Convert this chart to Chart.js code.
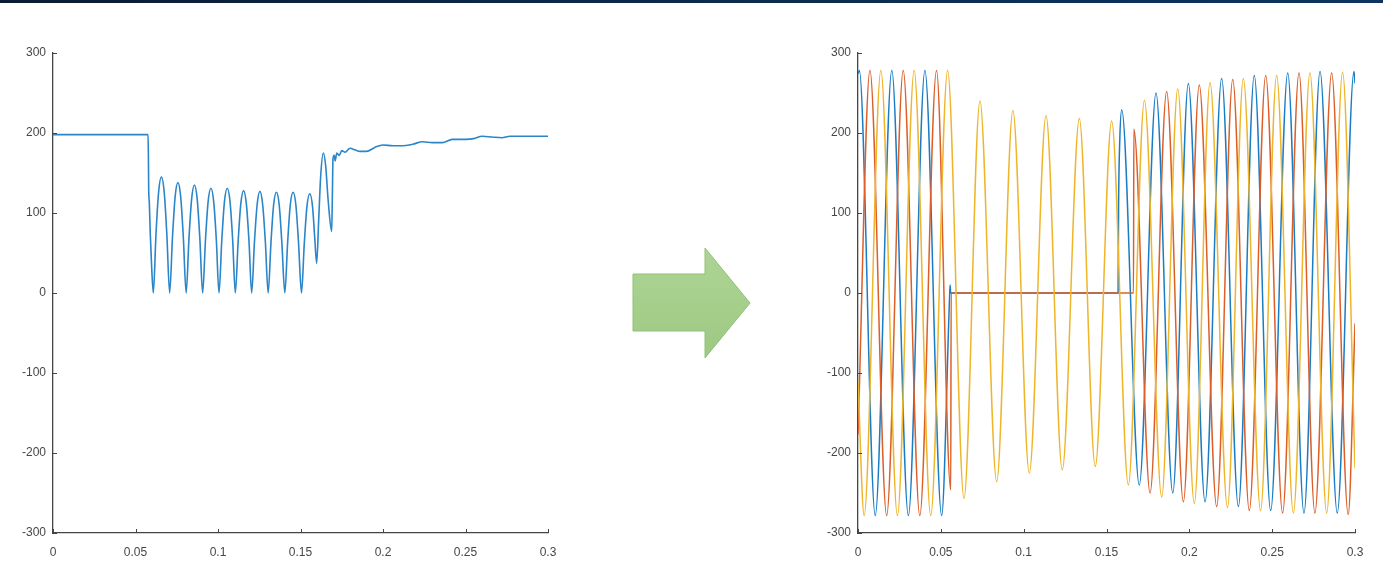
<!DOCTYPE html>
<html>
<head>
<meta charset="utf-8">
<script src="https://cdn.jsdelivr.net/npm/chart.js@4.4.1/dist/chart.umd.min.js"></script>
<style>
  html, body { margin: 0; padding: 0; background: #ffffff; }
  body { width: 1383px; height: 563px; position: relative; overflow: hidden; }
  #topbar { position: absolute; left: 0; top: 0; width: 1383px; height: 3px;
            background: linear-gradient(90deg, #0b1b33 0%, #0c2a4c 50%, #0c3561 100%); }
  #cLeft { position: absolute; left: 0; top: 0; }
  #cRight { position: absolute; left: 780px; top: 0; }
  #arrow { position: absolute; left: 0; top: 0; }
</style>
</head>
<body>
<div id="topbar"></div>
<canvas id="cLeft" width="620" height="563"></canvas>
<canvas id="cRight" width="603" height="563"></canvas>
<svg id="arrow" width="1383" height="563">
  <defs>
    <linearGradient id="g" x1="0" y1="0" x2="0" y2="1">
      <stop offset="0" stop-color="#aed495"/>
      <stop offset="1" stop-color="#9dc982"/>
    </linearGradient>
  </defs>
  <polygon points="633,274 705,274 705,248 750,303 705,358 705,331 633,331"
           fill="url(#g)" stroke="#90c274" stroke-width="1"/>
</svg>
<script>
// ---------- data (time in s, value) ----------
const xTicks = [0, 0.05, 0.1, 0.15, 0.2, 0.25, 0.3];
const yTicks = [-300, -200, -100, 0, 100, 200, 300];

// left chart: DC-like signal
const leftSeries = [
  [0, 198], [0.0576, 198], [0.0578, 175], [0.0580, 130], [0.0584, 112], [0.0589, 77], [0.0597, 37], [0.0608, 0],
  [0.0624, 73], [0.0640, 126], [0.0657, 145], [0.0674, 126], [0.0690, 73],
  [0.0707, 0], [0.0724, 69], [0.0740, 120], [0.0757, 138], [0.0774, 120], [0.0790, 69],
  [0.0807, 0], [0.0824, 68], [0.0840, 117], [0.0857, 135], [0.0874, 117], [0.0890, 68],
  [0.0907, 0], [0.0924, 66], [0.0940, 114], [0.0957, 131], [0.0974, 114], [0.0990, 66],
  [0.1006, 0], [0.1023, 66], [0.1039, 114], [0.1056, 131], [0.1073, 114], [0.1089, 66],
  [0.1105, 0], [0.1122, 64], [0.1138, 111], [0.1155, 128], [0.1172, 111], [0.1188, 64],
  [0.1204, 0], [0.1221, 64], [0.1237, 110], [0.1254, 127], [0.1271, 110], [0.1287, 64],
  [0.1304, 0], [0.1321, 63], [0.1337, 110], [0.1354, 126], [0.1371, 110], [0.1387, 63],
  [0.1405, 0], [0.1422, 63], [0.1438, 110], [0.1455, 126], [0.1472, 110], [0.1488, 63],
  [0.1506, 0], [0.1523, 62], [0.1539, 108], [0.1556, 124], [0.1573, 108], [0.1586, 70],
  [0.1598, 37], [0.1610, 90], [0.1622, 145], [0.1638, 175], [0.1652, 160], [0.1668, 115],
  [0.1689, 77], [0.1693, 120], [0.1697, 168], [0.1705, 172], [0.1710, 165], [0.1720, 175],
  [0.1735, 172], [0.1750, 178], [0.1770, 176], [0.1800, 181], [0.1830, 179], [0.1860, 177],
  [0.1900, 177], [0.1950, 182], [0.2000, 185], [0.2060, 184], [0.2120, 184], [0.2180, 186],
  [0.2240, 189], [0.2300, 188], [0.2360, 188], [0.2420, 192], [0.2500, 192], [0.2550, 193],
  [0.2600, 196], [0.2660, 195], [0.2720, 194], [0.2770, 196], [0.3000, 196]
];

// right chart: three phases (peaks / troughs / breakpoints)
const blueSeries = [
  [0, 274], [0.0008, 278], [0.0104, -278], [0.0204, 278], [0.0304, -278], [0.0404, 278],
  [0.0505, -278], [0.0553, -4], [0.0556, 10], [0.0559, 0], [0.1570, 0], [0.1573, 110],
  [0.1580, 190], [0.1592, 229], [0.1698, -240], [0.1799, 250], [0.1900, -250], [0.1994, 262],
  [0.2095, -261], [0.2195, 268], [0.2296, -267], [0.2392, 272], [0.2491, -272], [0.2594, 275],
  [0.2692, -275], [0.2789, 277], [0.2893, -275], [0.2994, 277], [0.3000, 262]
];
const redSeries = [
  [0, -177], [0.0072, 278], [0.0173, -278], [0.0273, 278], [0.0373, -278], [0.0474, 278],
  [0.0560, -246], [0.0562, 0], [0.1663, 0], [0.1665, 205], [0.1763, -250], [0.1863, 252],
  [0.1964, -261], [0.2060, 260], [0.2165, -267], [0.2262, 267], [0.2362, -272], [0.2461, 272],
  [0.2563, -275], [0.2662, 275], [0.2758, -275], [0.2859, 275], [0.2959, -277], [0.3000, -38]
];
const yellowSeries = [
  [0, -110], [0.0037, -278], [0.0138, 278], [0.0238, -278], [0.0339, 278], [0.0439, -278],
  [0.0541, 278], [0.0640, -257], [0.0736, 240], [0.0837, -236], [0.0935, 228], [0.1034, -225],
  [0.1135, 222], [0.1233, -221], [0.1336, 218], [0.1432, -217], [0.1531, 215], [0.1632, -240],
  [0.1729, 241], [0.1833, -255], [0.1930, 255], [0.2030, -263], [0.2125, 263], [0.2230, -268],
  [0.2326, 268], [0.2430, -272], [0.2527, 272], [0.2628, -275], [0.2728, 275], [0.2829, -275],
  [0.2925, 276], [0.3000, -219]
];

// ---------- helpers ----------
const toPts = s => s.map(p => ({ x: p[0], y: p[1] }));
const AXIS = '#454545';
const FONT = { family: '"Liberation Sans", Arial, sans-serif', size: 12 };

const innerTicks = {
  id: 'innerTicks',
  afterDraw(chart) {
    const { ctx, chartArea, scales } = chart;
    ctx.save();
    ctx.strokeStyle = AXIS;
    ctx.lineWidth = 1;
    ctx.beginPath();
    for (const v of xTicks) {
      const px = Math.round(scales.x.getPixelForValue(v)) + 0.5;
      ctx.moveTo(px, chartArea.bottom);
      ctx.lineTo(px, chartArea.bottom - 4);
    }
    for (const v of yTicks) {
      const py = Math.round(scales.y.getPixelForValue(v)) + 0.5;
      ctx.moveTo(chartArea.left, py);
      ctx.lineTo(chartArea.left + 4, py);
    }
    ctx.stroke();
    ctx.restore();
  }
};

function makeOptions(padLeft, padRight) {
  return {
    responsive: false,
    animation: false,
    devicePixelRatio: 1,
    layout: { padding: { left: padLeft, right: padRight, top: 53, bottom: 0 } },
    plugins: { legend: { display: false }, tooltip: { enabled: false } },
    elements: { point: { radius: 0 } },
    scales: {
      x: {
        type: 'linear', min: 0, max: 0.3,
        grid: { display: false, drawTicks: false },
        border: { display: true, color: AXIS, width: 1.3 },
        afterBuildTicks: s => { s.ticks = xTicks.map(v => ({ value: v })); },
        afterFit: s => { s.height = 30; },
        ticks: { color: '#474747', font: FONT, padding: 12, maxRotation: 0,
                 callback: v => String(v) }
      },
      y: {
        type: 'linear', min: -300, max: 300,
        grid: { display: false, drawTicks: false },
        border: { display: true, color: AXIS, width: 1.3 },
        afterBuildTicks: s => { s.ticks = yTicks.map(v => ({ value: v })); },
        afterFit: s => { s.width = 53; },
        ticks: { color: '#474747', font: FONT, padding: 7,
                 callback: v => String(v) }
      }
    }
  };
}

new Chart(document.getElementById('cLeft'), {
  type: 'line',
  data: {
    datasets: [{
      data: toPts(leftSeries),
      borderColor: '#2a85c9', borderWidth: 1.6,
      cubicInterpolationMode: 'monotone', fill: false
    }]
  },
  options: makeOptions(0, 72),
  plugins: [innerTicks]
});

new Chart(document.getElementById('cRight'), {
  type: 'line',
  data: {
    datasets: [
      { data: toPts(yellowSeries), borderColor: '#efb52a', borderWidth: 1.5,
        cubicInterpolationMode: 'monotone', fill: false, order: 1 },
      { data: toPts(redSeries), borderColor: '#dc5f2a', borderWidth: 1.5,
        cubicInterpolationMode: 'monotone', fill: false, order: 2 },
      { data: toPts(blueSeries), borderColor: '#1a7dc4', borderWidth: 1.5,
        cubicInterpolationMode: 'monotone', fill: false, order: 3 }
    ]
  },
  options: makeOptions(25, 28),
  plugins: [innerTicks]
});
</script>
</body>
</html>
